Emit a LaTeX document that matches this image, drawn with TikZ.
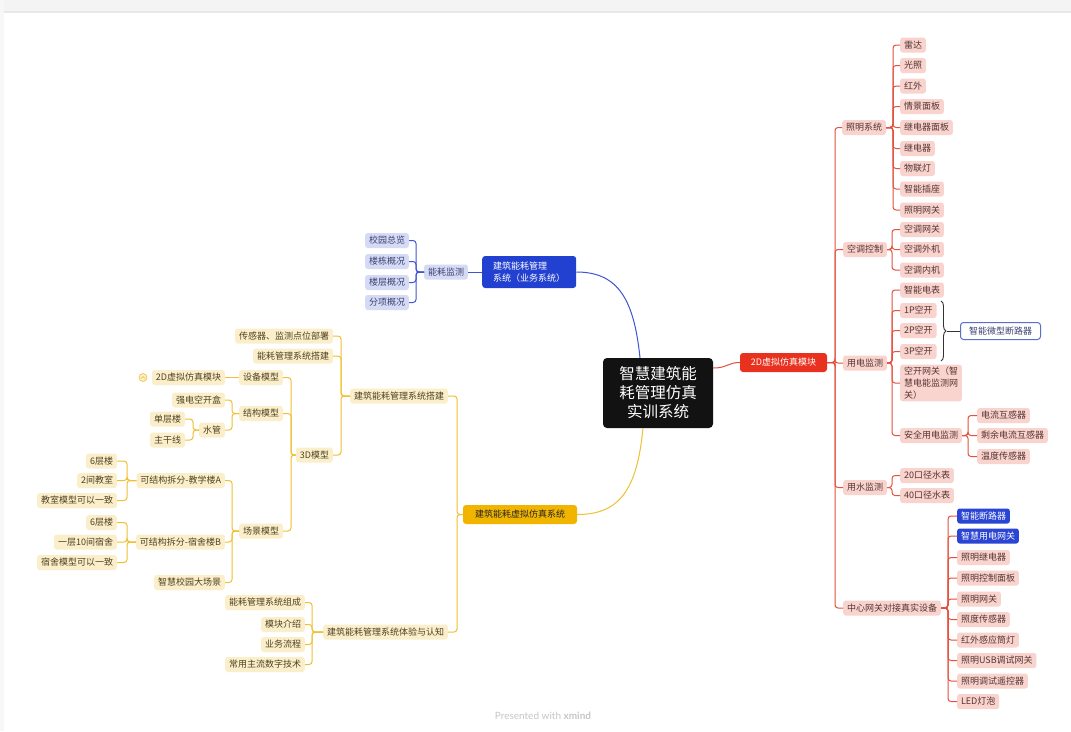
\documentclass[tikz,border=0pt]{standalone}
\usepackage{fontspec}
\setmainfont{Noto Sans CJK SC}
\newfontfamily\latof{Lato}
\usetikzlibrary{decorations.pathreplacing}
\definecolor{pinkF}{HTML}{F9D3CE}
\definecolor{pinkT}{HTML}{553532}
\definecolor{redL}{HTML}{E4513F}
\definecolor{redM}{HTML}{E8321F}
\definecolor{yelF}{HTML}{FBEFCB}
\definecolor{yelT}{HTML}{4F4120}
\definecolor{yelL}{HTML}{F0C032}
\definecolor{yelM}{HTML}{F1B500}
\definecolor{bluF}{HTML}{D6DBF5}
\definecolor{bluT}{HTML}{3B4272}
\definecolor{bluL}{HTML}{3E53D6}
\definecolor{bluM}{HTML}{2341D0}
\definecolor{bluLeaf}{HTML}{2A45D3}
\definecolor{bdr}{HTML}{5B6EC8}
\tikzset{
 box/.style={rounded corners=2.5pt, inner xsep=3.8pt, inner ysep=0pt, minimum height=15pt, font=\fontsize{9}{12}\selectfont},
 pk/.style={box, fill=pinkF, text=pinkT},
 yw/.style={box, fill=yelF, text=yelT},
 bw/.style={box, fill=bluF, text=bluT},
 bleaf/.style={box, fill=bluLeaf, text=white},
 rl/.style={draw=redL, line width=1pt, rounded corners=3pt},
 yli/.style={draw=yelL, line width=1pt, rounded corners=3pt},
 bli/.style={draw=bluL, line width=1pt, rounded corners=3pt},
 central/.style={fill=black!93, text=white, rounded corners=4pt, minimum width=110pt, minimum height=70pt, align=center, font=\fontsize{15.5}{19}\selectfont},
 rmain/.style={fill=redM, text=white, rounded corners=3pt, minimum width=87pt, minimum height=19pt, inner sep=0pt, font=\fontsize{9}{12}\selectfont},
 ymain/.style={fill=yelM, text=black!85, rounded corners=3pt, minimum width=114pt, minimum height=19pt, inner sep=0pt, font=\fontsize{9}{12}\selectfont},
 bmain/.style={fill=bluM, text=white, rounded corners=3pt, minimum width=94pt, minimum height=32pt, inner xsep=9pt, inner ysep=0pt, align=left, font=\fontsize{9}{12}\selectfont},
}
\newcommand\conn[4]{\foreach \c in {#4}{\draw[#1] (#2) -- (#2 -| #3,0) |- (\c);}}
\begin{document}
\begin{tikzpicture}[x=1pt,y=-1pt]
\useasboundingbox (0,0) rectangle (1071,731);
\fill[white] (0,0) rectangle (1071,731);
\fill[gray!9] (0,0) rectangle (1071,12);
\fill[gray!18] (0,11) rectangle (1071,12.5);
\fill[gray!6] (0,0) rectangle (4,731);

% root
\node[central] (root) at (658,393) {智慧建筑能\\耗管理仿真\\实训系统};

% ---------- red branch ----------
\node[rmain] (rm) at (783.5,362.5) {2D虚拟仿真模块};
\draw[draw=redL, line width=1pt] ([yshift=25pt]root.east) .. controls +(14,0) and +(-12,0) .. (rm.west);
\node[pk,anchor=west] (r1) at (842,127.5) {照明系统};
\node[pk,anchor=west] (r2) at (843,249.5) {空调控制};
\node[pk,anchor=west] (r3) at (843,363) {用电监测};
\node[pk,anchor=west] (r4) at (843,487.5) {用水监测};
\node[pk,anchor=west] (r5) at (843,608) {中心网关对接真实设备};
\conn{rl}{rm.east}{835}{r1.west,r2.west,r3.west,r4.west,r5.west}

\foreach \t/\y [count=\i] in {雷达/45,光照/65.5,红外/86,情景面板/106.5,继电器面板/127.5,继电器/148.5,物联灯/168.5,智能插座/189,照明网关/210}
  \node[pk,anchor=west] (a\i) at (900,\y) {\t};
\foreach \i in {1,...,9} \draw[rl] (r1.east) -- (r1.east -| 893,0) |- (a\i.west);

\foreach \t/\y [count=\i] in {空调网关/229.5,空调外机/249.5,空调内机/270}
  \node[pk,anchor=west] (k\i) at (900,\y) {\t};
\foreach \i in {1,...,3} \draw[rl] (r2.east) -- (r2.east -| 892,0) |- (k\i.west);

\foreach \t/\y [count=\i] in {智能电表/290,1P空开/310.5,2P空开/330.5,3P空开/351.5}
  \node[pk,anchor=west] (e\i) at (900,\y) {\t};
\node[pk,anchor=west,align=left,inner ysep=2pt] (e5) at (900,383) {空开网关（智\\慧电能监测网\\关）};
\node[pk,anchor=west] (e6) at (900,435.5) {安全用电监测};
\foreach \i in {1,...,6} \draw[rl] (r3.east) -- (r3.east -| 892,0) |- (e\i.west);

\foreach \t/\y [count=\i] in {电流互感器/415.5,剩余电流互感器/435.5,温度传感器/456.5}
  \node[pk,anchor=west] (s\i) at (977,\y) {\t};
\foreach \i in {1,...,3} \draw[rl] (e6.east) -- (e6.east -| 968,0) |- (s\i.west);

% brace + summary
\coordinate (bt) at (941,301);
\coordinate (bb) at (941,361);
\coordinate (btip) at (947,331);
\draw[decorate, decoration={brace, amplitude=5pt}, line width=0.9pt, black!80] (bt) -- (bb);
\node[draw=bdr, line width=1pt, fill=white, rounded corners=3pt, minimum height=17pt, inner xsep=8.5pt, inner ysep=0pt, text=bluT, font=\fontsize{9}{12}\selectfont, anchor=west] (wk) at (960,331) {智能微型断路器};
\draw[line width=0.9pt, black!80] (btip) -- (wk.west);

\foreach \t/\y [count=\i] in {20口径水表/475.5,40口径水表/495.5}
  \node[pk,anchor=west] (w\i) at (900,\y) {\t};
\foreach \i in {1,2} \draw[rl] (r4.east) -- (r4.east -| 892,0) |- (w\i.west);

\node[bleaf,anchor=west] (g1) at (957,516) {智能断路器};
\node[bleaf,anchor=west] (g2) at (957,536) {智慧用电网关};
\foreach \t/\y [count=\i from 3] in {照明继电器/557.5,照明控制面板/578,照明网关/599,照度传感器/619.5,红外感应筒灯/640,照明USB调试网关/660.5,照明调试遥控器/681,LED灯泡/701.5}
  \node[pk,anchor=west] (g\i) at (957,\y) {\t};
\foreach \i in {1,...,10} \draw[rl] (r5.east) -- (r5.east -| 948,0) |- (g\i.west);

% ---------- blue branch ----------
\node[bmain,anchor=west] (bm) at (482,272) {建筑能耗管理\\系统（业务系统）};
\draw[draw=bluL, line width=1pt] ([xshift=-18pt]root.north) .. controls +(-6,-58) and +(42,0) .. (bm.east);
\node[bw,anchor=east] (b1) at (468,272) {能耗监测};
\draw[bli] (bm.west) -- (b1.east);
\foreach \t/\y [count=\i] in {校园总览/240.5,楼栋概况/261.5,楼层概况/282.5,分项概况/302.5}
  \node[bw,anchor=east] (bb\i) at (409,\y) {\t};
\foreach \i in {1,...,4} \draw[bli] (b1.west) -- (b1.west -| 416,0) |- (bb\i.east);

% ---------- yellow branch ----------
\node[ymain] (ym) at (520,514.5) {建筑能耗虚拟仿真系统};
\draw[draw=yelL, line width=1pt] ([xshift=-15pt]root.south) .. controls +(-6,62) and +(42,0) .. (ym.east);
\node[yw,anchor=east] (y1) at (448,396) {建筑能耗管理系统搭建};
\node[yw,anchor=east] (y2) at (448,632) {建筑能耗管理系统体验与认知};
\conn{yli}{ym.west}{457}{y1.east,y2.east}

\node[yw,anchor=east] (p1) at (333,336) {传感器、监测点位部署};
\node[yw,anchor=east] (p2) at (333,356) {能耗管理系统搭建};
\node[yw,anchor=east] (p3) at (333,455) {3D模型};
\conn{yli}{y1.west}{341}{p1.east,p2.east,p3.east}

\node[yw,anchor=east] (q1) at (283,377.5) {设备模型};
\node[yw,anchor=east] (q2) at (283,413.5) {结构模型};
\node[yw,anchor=east] (q3) at (283,531) {场景模型};
\conn{yli}{p3.west}{291}{q1.east,q2.east,q3.east}

\node[yw,anchor=east] (q11) at (225,377.5) {2D虚拟仿真模块};
\draw[yli] (q1.west) -- (q11.east);
\node[circle, draw=yelL, fill=yelF, line width=0.6pt, inner sep=0pt, minimum size=8pt] (ic) at (143,377.5) {};
\draw[yelL, line width=0.6pt] ([shift={(-2,1)}]ic.center) -- ([shift={(0,-1)}]ic.center) -- ([shift={(2,1)}]ic.center);

\node[yw,anchor=east] (q21) at (225,400) {强电空开盒};
\node[yw,anchor=east] (q22) at (225,430) {水管};
\conn{yli}{q2.west}{232}{q21.east,q22.east}
\node[yw,anchor=east] (q221) at (185,419) {单层楼};
\node[yw,anchor=east] (q222) at (185,440) {主干线};
\conn{yli}{q22.west}{193}{q221.east,q222.east}

\node[yw,anchor=east] (q31) at (225,480.5) {可结构拆分-教学楼A};
\node[yw,anchor=east] (q32) at (225,542) {可结构拆分-宿舍楼B};
\node[yw,anchor=east] (q33) at (225,582.5) {智慧校园大场景};
\conn{yli}{q3.west}{232}{q31.east,q32.east,q33.east}

\node[yw,anchor=east] (t1) at (117,461) {6层楼};
\node[yw,anchor=east] (t2) at (117,480.5) {2间教室};
\node[yw,anchor=east] (t3) at (117,500.5) {教室模型可以一致};
\conn{yli}{q31.west}{127}{t1.east,t2.east,t3.east}

\node[yw,anchor=east] (d1) at (117,522.5) {6层楼};
\node[yw,anchor=east] (d2) at (117,542) {一层10间宿舍};
\node[yw,anchor=east] (d3) at (117,562.5) {宿舍模型可以一致};
\conn{yli}{q32.west}{127}{d1.east,d2.east,d3.east}

\foreach \t/\y [count=\i] in {能耗管理系统组成/602.5,模块介绍/624.5,业务流程/644.5,常用主流数字技术/664.5}
  \node[yw,anchor=east] (x\i) at (305,\y) {\t};
\foreach \i in {1,...,4} \draw[yli] (y2.west) -- (y2.west -| 312,0) |- (x\i.east);

% footer
\node[text=gray!45, font=\latof\fontsize{10}{12}\selectfont] (ft) at (543,716) {Presented with \textbf{xmind}};
\end{tikzpicture}
\end{document}
